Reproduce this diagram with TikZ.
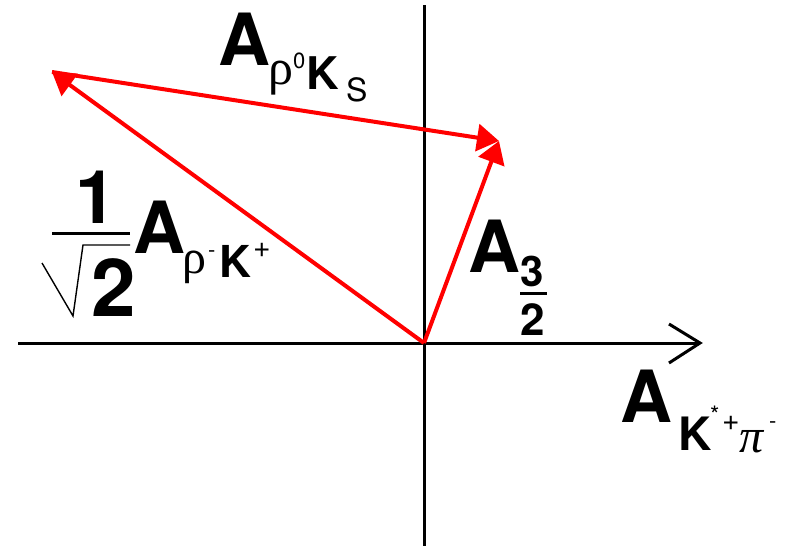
\documentclass[tikz,border=0pt]{standalone}
\usepackage{fontspec}
\setmainfont{TeX Gyre Heros}
\newfontfamily\grk{Liberation Serif}
\usetikzlibrary{arrows.meta}
\newcommand\fsz[1]{\fontsize{#1}{#1}\selectfont}
\begin{document}
\begin{tikzpicture}[x=1pt,y=-1pt,
  txt/.style={inner sep=0pt, outer sep=0pt, anchor=base west},
  big/.style={txt, font=\fsz{72}\bfseries},
  vec/.style={draw=red, line width=4pt, -{Triangle[length=22pt,width=27pt,fill=red]}},
  axis/.style={draw=black, line width=3pt},
  thin/.style={draw=black, line width=1.4pt}]
\useasboundingbox (0,0) rectangle (785,546);
% axes
\coordinate (xl) at (18,343);
\coordinate (xr) at (700,343);
\coordinate (ha1) at (669,324);
\coordinate (ha2) at (669,363);
\coordinate (yt) at (424,5);
\coordinate (yb) at (424,546);
\draw[axis] (xl) -- (xr);
\draw[axis] (yt) -- (yb);
\draw[axis] (ha1) -- (xr) -- (ha2);
% vectors
\coordinate (O) at (424,343);
\coordinate (Q) at (52,72);
\coordinate (P) at (499,141);
\draw[vec] (O) -- (Q);
\draw[vec] (Q) -- (P);
\draw[vec] (O) -- (P);
% label A_{rho0 KS}
\node[big] (a1) at (218,65) {A};
\node[txt, font=\fsz{50}\grk] (a1r) at (268,84) {ρ};
\node[txt, font=\fsz{22}] (a1z) at (293,68) {0};
\node[txt, font=\fsz{45}\bfseries] (a1k) at (306,89) {K};
\node[txt, font=\fsz{32}] (a1s) at (346,101) {S};
% label 1/sqrt2 A_{rho- K+}
\node[txt, font=\fsz{74}\bfseries, anchor=base] (b1) at (96,223) {1};
\coordinate (bb1) at (52,233);
\coordinate (bb2) at (130,233);
\draw[line width=3pt] (bb1) -- (bb2);
\coordinate (s1) at (42,263);
\coordinate (s2) at (73,316);
\coordinate (s3) at (83,245);
\coordinate (s4) at (130,245);
\draw[thin] (s1) -- (s2) -- (s3) -- (s4);
\node[txt, font=\fsz{80}\bfseries] (b2) at (91,316) {2};
\node[big] (ba) at (133,253) {A};
\node[txt, font=\fsz{48}\grk] (br) at (182,273) {ρ};
\node[txt, font=\fsz{22}] (bm) at (208,257) {-};
\node[txt, font=\fsz{44}\bfseries] (bk) at (219,277) {K};
\node[txt, font=\fsz{30}] (bp) at (253,257) {+};
% label A_{3/2}
\node[big] (ca) at (468,272) {A};
\node[txt, font=\fsz{42}\bfseries] (c3) at (520,286) {3};
\coordinate (cb1) at (520,293);
\coordinate (cb2) at (547,293);
\draw[line width=3pt] (cb1) -- (cb2);
\node[txt, font=\fsz{44}\bfseries] (c2) at (520,335) {2};
% label A_{K*+ pi-}
\node[big] (da) at (620,422) {A};
\node[txt, font=\fsz{46}\bfseries] (dk) at (678,450) {K};
\node[txt, font=\fsz{24}] (ds) at (710,423) {*};
\node[txt, font=\fsz{30}] (dp) at (722,430) {+};
\node[txt, font=\fsz{48}\grk\itshape] (dpi) at (739,452) {π};
\node[txt, font=\fsz{22}] (dm) at (769,428) {-};
\end{tikzpicture}
\end{document}
